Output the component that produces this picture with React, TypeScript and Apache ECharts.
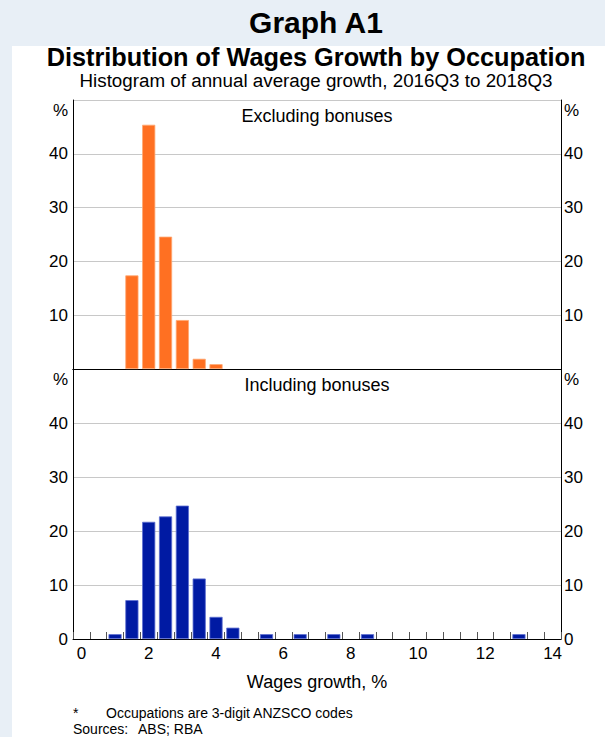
import React, { useEffect, useRef } from "react";
import * as echarts from "echarts";

const FONT = "'Liberation Sans', Arial, Helvetica, sans-serif";

const categories = [
  "0", "0.5", "1", "1.5", "2", "2.5", "3", "3.5", "4", "4.5",
  "5", "5.5", "6", "6.5", "7", "7.5", "8", "8.5", "9", "9.5",
  "10", "10.5", "11", "11.5", "12", "12.5", "13", "13.5", "14",
];

// Share of occupations (%) in each 0.5ppt bin
const excludingBonuses = [
  0, 0, 0, 17.4, 45.4, 24.6, 9.1, 1.9, 0.9, 0,
  0, 0, 0, 0, 0, 0, 0, 0, 0, 0,
  0, 0, 0, 0, 0, 0, 0, 0, 0,
];

const includingBonuses = [
  0, 0, 0.9, 7.2, 21.7, 22.7, 24.7, 11.2, 4.1, 2.1,
  0, 0.9, 0, 0.9, 0, 0.9, 0, 0.9, 0, 0,
  0, 0, 0, 0, 0, 0, 0.9, 0, 0,
];

const yTicks = [0, 10, 20, 30, 40, 50];

const titleMain = "Graph A1";
const titleSub = "Distribution of Wages Growth by Occupation";
const subtitle = "Histogram of annual average growth, 2016Q3 to 2018Q3";
const panelTop = "Excluding bonuses";
const panelBottom = "Including bonuses";
const xName = "Wages growth, %";
const footnote = "Occupations are 3-digit ANZSCO codes";

export default function App() {
  const ref = useRef<HTMLDivElement>(null);

  useEffect(() => {
    if (!ref.current) return;
    const chart = echarts.init(ref.current, null, { renderer: "svg" });

    const L = 73;
    const W = 488;
    const T1 = 100;
    const H1 = 269;
    const T2 = 369;
    const H2 = 270;
    const cx = L + W / 2;

    const yMax = yTicks[yTicks.length - 1];
    const yInt = yTicks[1] - yTicks[0];

    const mkY = (grid: number, pos: "left" | "right", top: boolean) => ({
      type: "value",
      gridIndex: grid,
      position: pos,
      min: yTicks[0],
      max: yMax,
      interval: yInt,
      axisLine: { show: true, lineStyle: { color: "#000", width: 1 } },
      axisTick: { show: false },
      splitLine: {
        show: pos === "left",
        lineStyle: { color: "#C8C8C8", width: 1 },
      },
      axisLabel: {
        color: "#000",
        fontSize: 17,
        fontFamily: FONT,
        margin: pos === "left" ? 5 : 3,
        formatter: (v: number) =>
          v === yMax ? "" : v === 0 && top ? "" : String(v),
      },
    });

    const barStyle = (color: string, border: string) => ({
      color,
      borderColor: border,
      borderWidth: 0.8,
    });

    const txt = (
      x: number,
      y: number,
      text: string,
      size: number,
      align: string,
      bold = false
    ) => ({
      type: "text",
      x,
      y,
      style: {
        text,
        fill: "#000",
        font: `${bold ? "bold " : ""}${size}px ${FONT}`,
        textAlign: align,
        textVerticalAlign: "middle",
      },
    });

    chart.setOption({
      animation: false,
      backgroundColor: "#E8EFF6",
      textStyle: { fontFamily: FONT },
      grid: [
        { left: L, top: T1, width: W, height: H1, show: false },
        { left: L, top: T2, width: W, height: H2, show: false },
      ],
      xAxis: [
        {
          type: "category",
          gridIndex: 0,
          data: categories,
          boundaryGap: true,
          axisLine: { show: true, lineStyle: { color: "#000" } },
          axisTick: { show: false },
          axisLabel: { show: false },
          splitLine: { show: false },
        },
        {
          type: "category",
          gridIndex: 0,
          position: "top",
          data: categories,
          boundaryGap: true,
          axisLine: { show: true, lineStyle: { color: "#000" } },
          axisTick: { show: false },
          axisLabel: { show: false },
          splitLine: { show: false },
        },
        {
          type: "category",
          gridIndex: 1,
          data: categories,
          boundaryGap: true,
          axisLine: { show: true, lineStyle: { color: "#000" } },
          axisTick: {
            show: true,
            inside: true,
            length: 7,
            interval: 0,
            lineStyle: { color: "#555" },
          },
          axisLabel: {
            interval: 3,
            color: "#000",
            fontSize: 17,
            fontFamily: FONT,
            margin: 6,
          },
          splitLine: { show: false },
          name: xName,
          nameLocation: "middle",
          nameGap: 34,
          nameTextStyle: { color: "#000", fontSize: 18, fontFamily: FONT },
        },
      ],
      yAxis: [
        mkY(0, "left", true),
        mkY(0, "right", true),
        mkY(1, "left", false),
        mkY(1, "right", false),
      ],
      series: [
        {
          type: "bar",
          xAxisIndex: 0,
          yAxisIndex: 0,
          data: excludingBonuses.map((v) => (v === 0 ? null : v)),
          barCategoryGap: "22%",
          itemStyle: barStyle("#FF7022", "#FFA872"),
          z: 3,
        },
        {
          type: "bar",
          xAxisIndex: 2,
          yAxisIndex: 2,
          data: includingBonuses.map((v) => (v === 0 ? null : v)),
          barCategoryGap: "22%",
          itemStyle: barStyle("#001AA3", "#5D6FD0"),
          z: 3,
        },
      ],
      graphic: [
        {
          type: "rect",
          z: -10,
          shape: { x: 12, y: 46, width: 605 - 12, height: 737 - 46 },
          style: { fill: "#FFFFFF" },
        },
        txt(cx - 1, 22, titleMain, 30, "center", true),
        txt(cx - 1, 57, titleSub, 25.3, "center", true),
        txt(cx - 1, 80, subtitle, 18.8, "center"),
        txt(L - 5, T1 + 10, "%", 17, "right"),
        txt(L + W + 3, T1 + 10, "%", 17, "left"),
        txt(L - 5, T2 + 10, "%", 17, "right"),
        txt(L + W + 3, T2 + 10, "%", 17, "left"),
        txt(cx, T1 + 16, panelTop, 18, "center"),
        txt(cx, T2 + 16, panelBottom, 18, "center"),
        txt(73, 713, "*", 14, "left"),
        txt(106, 713, footnote, 14, "left"),
        txt(73, 729, "Sources:", 14, "left"),
        txt(138, 729, "ABS; RBA", 14, "left"),
      ],
    });

    return () => chart.dispose();
  }, []);

  return (
    <div
      ref={ref}
      style={{ position: "fixed", left: 0, top: 0, width: 605, height: 737 }}
    />
  );
}
